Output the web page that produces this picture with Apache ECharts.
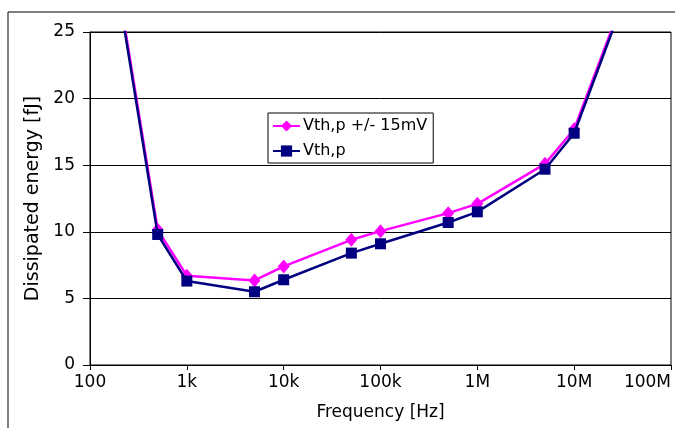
<!DOCTYPE html>
<html>
<head>
<meta charset="utf-8">
<script src="https://cdn.jsdelivr.net/npm/echarts@6/dist/echarts.min.js"></script>
<style>
  html, body { margin: 0; padding: 0; background: #fff; }
  #chart { width: 675px; height: 428px; }
</style>
</head>
<body>
<div id="chart"></div>
<script>
const frequencies = [100, 500, 1e3, 5e3, 1e4, 5e4, 1e5, 5e5, 1e6, 5e6, 1e7, 5e7];
const vthSpread = [41.5, 10.15, 6.7, 6.35, 7.4, 9.4, 10.05, 11.4, 12.1, 15.1, 17.7, 31.2];
const vth = [41.2, 9.8, 6.3, 5.5, 6.4, 8.4, 9.1, 10.7, 11.5, 14.7, 17.4, 31.0];
const seriesNames = ["Vth,p +/- 15mV", "Vth,p"];
const xTickLabels = { 100: "100", 1000: "1k", 10000: "10k", 100000: "100k", 1000000: "1M", 10000000: "10M", 100000000: "100M" };

const chart = echarts.init(document.getElementById("chart"));
const font = "DejaVu Sans, Arial, sans-serif";

const option = {
  animation: false,
  backgroundColor: "#fff",
  graphic: [
    {
      type: "rect",
      shape: { x: 8, y: 12, width: 700, height: 440 },
      style: { fill: "none", stroke: "#000", lineWidth: 1 },
      silent: true
    }
  ],
  grid: {
    left: 90, right: 4, top: 32, bottom: 63,
    outerBoundsMode: "none",
    show: true, borderColor: "#000", borderWidth: 1
  },
  legend: {
    left: 268,
    top: 113,
    orient: "vertical",
    backgroundColor: "#fff",
    borderColor: "#000",
    borderWidth: 1,
    padding: [4, 6, 3, 4],
    itemGap: 7,
    itemWidth: 27,
    itemHeight: 14,
    textStyle: { fontFamily: font, fontSize: 16, lineHeight: 18, color: "#000", padding: [0, 0, 0, -2] },
    data: seriesNames
  },
  xAxis: {
    type: "log",
    logBase: 10,
    min: 100,
    max: 1e8,
    name: "Frequency [Hz]",
    nameLocation: "middle",
    nameGap: 39,
    nameTextStyle: { fontFamily: font, fontSize: 17, color: "#000" },
    axisLine: { lineStyle: { color: "#000", width: 1 } },
    axisTick: { show: true, length: 5, lineStyle: { color: "#000" } },
    minorTick: { show: false },
    splitLine: { show: false },
    axisLabel: {
      fontFamily: font, fontSize: 17, color: "#000", margin: 9,
      alignMaxLabel: "right",
      formatter: v => xTickLabels[Math.round(v)] || ""
    }
  },
  yAxis: {
    type: "value",
    min: 0,
    max: 25,
    interval: 5,
    name: "Dissipated energy [fJ]",
    nameLocation: "middle",
    nameGap: 46,
    nameTextStyle: { fontFamily: font, fontSize: 19, color: "#000" },
    axisLine: { show: true, lineStyle: { color: "#000", width: 1 } },
    axisTick: { show: true, length: 7, lineStyle: { color: "#000" } },
    splitLine: { show: true, lineStyle: { color: "#000", width: 1 } },
    axisLabel: { fontFamily: font, fontSize: 17, color: "#000", margin: 15 }
  },
  series: [
    {
      name: seriesNames[0],
      type: "line",
      data: frequencies.map((f, i) => [f, vthSpread[i]]),
      symbol: "diamond",
      symbolSize: [12, 14],
      color: "#ff00ff",
      lineStyle: { width: 2.5, color: "#ff00ff" },
      itemStyle: { color: "#ff00ff" },
      clip: true,
      z: 2
    },
    {
      name: seriesNames[1],
      type: "line",
      data: frequencies.map((f, i) => [f, vth[i]]),
      symbol: "rect",
      symbolSize: 11,
      color: "#000080",
      lineStyle: { width: 2.5, color: "#000080" },
      itemStyle: { color: "#000080" },
      clip: true,
      z: 3
    }
  ]
};

chart.setOption(option);
</script>
</body>
</html>
